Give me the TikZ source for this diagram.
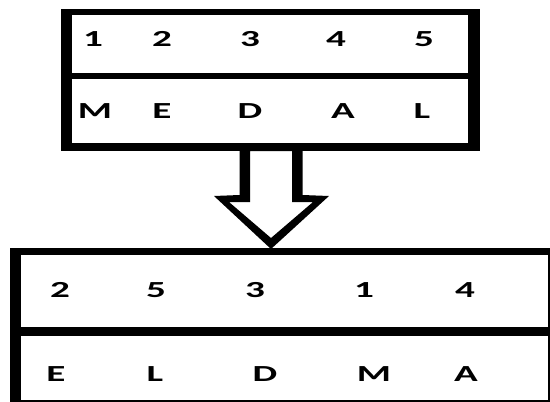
\documentclass[tikz,border=0pt]{standalone}
\usepackage{fontspec}
\newfontfamily\lblfont[FakeStretch=1.7]{Carlito}
\begin{document}
\begin{tikzpicture}[x=1pt,y=-1pt,
  bar/.style={fill=black},
  lbl/.style={inner sep=0pt,anchor=center,font=\lblfont\bfseries\fontsize{23}{23}\selectfont}]
\useasboundingbox[fill=white] (0,0) rectangle (550,402);
\clip (0,0) rectangle (550,402);
% top table frame
\fill[bar] (61,9) rectangle (72,151);
\fill[bar] (468,9) rectangle (480,151);
\fill[bar] (61,9) rectangle (480,15);
\fill[bar] (61,73) rectangle (480,79);
\fill[bar] (61,143) rectangle (480,151);
% bottom table frame (cropped at the picture edge)
\fill[bar] (10,248) rectangle (21,410);
\fill[bar] (547.5,248) rectangle (560,410);
\fill[bar] (10,248) rectangle (560,255);
\fill[bar] (10,327) rectangle (560,336);
\fill[bar] (10,399.5) rectangle (560,410);
% block arrow outline
\fill[bar,even odd rule]
  (239.5,147) -- (239.5,195) -- (214,196) -- (271,249) -- (329,196) -- (302.5,195) -- (302.5,147) -- cycle
  (250,151) -- (250,202) -- (229,202) -- (271,238) -- (313,202) -- (292,202) -- (292,151) -- cycle;
% top table texts
\node[lbl] (t1) at (93,39) {1};
\node[lbl] (t2) at (162,39) {2};
\node[lbl] (t3) at (250,39) {3};
\node[lbl] (t4) at (336,39) {4};
\node[lbl] (t5) at (424,39) {5};
\node[lbl] (m1) at (95,111.5) {M};
\node[lbl] (m2) at (162,111.5) {E};
\node[lbl] (m3) at (250,111.5) {D};
\node[lbl] (m4) at (343,111.5) {A};
\node[lbl] (m5) at (422,111.5) {L};
% bottom table texts
\node[lbl] (b1) at (60,290) {2};
\node[lbl] (b2) at (156,290) {5};
\node[lbl] (b3) at (255,290) {3};
\node[lbl] (b4) at (364,290) {1};
\node[lbl] (b5) at (465,290) {4};
\node[lbl] (l1) at (56,374) {E};
\node[lbl] (l2) at (155,374) {L};
\node[lbl] (l3) at (265,374) {D};
\node[lbl] (l4) at (374,374) {M};
\node[lbl] (l5) at (466,374) {A};
\end{tikzpicture}
\end{document}
